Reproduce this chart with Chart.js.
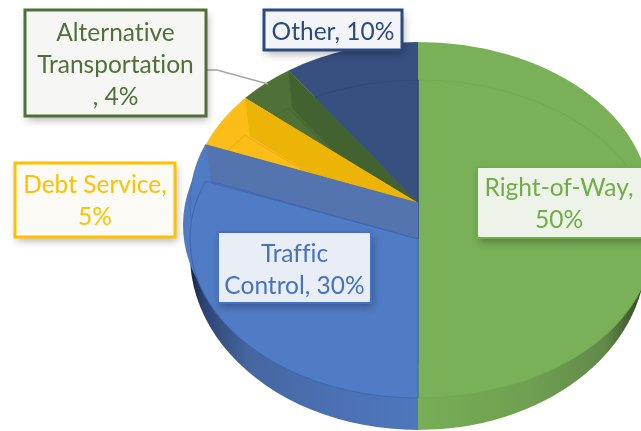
<!DOCTYPE html>
<html><head><meta charset="utf-8">
<style>html,body{margin:0;padding:0;background:#fff}canvas{display:block}</style>
<script src="https://cdn.jsdelivr.net/npm/chart.js@4"></script>
</head><body><canvas id="c" width="641" height="431"></canvas>
<script>
const categories = ["Right-of-Way", "Traffic Control", "Debt Service", "Alternative Transportation", "Other"];
const shares = [50, 30.9, 5.4, 4.1, 9.6];
const labelLines = [["Right-of-Way,", "50%"], ["Traffic", "Control, 30%"], ["Debt Service,", "5%"], ["Alternative", "Transportation", ", 4%"], ["Other, 10%"]];
const faceColors = ["#7AB158", "#507CC6", "#FDBD19", "#4F7138", "#375080"];
const wallColors = ["#7AB158", "#5374AE", "#ECB406", "#426230", "#375080"];
const lineColors = ["#72A851", "#3F66AE", "#E8AE10", "#47662F", "#2F4877"];
const textColors = ["#70AD47", "#4472C4", "#FFC000", "#4F7138", "#2B4A80"];
const boxFills = ["#EEF3EA", "#E9EEF6", "#FBFAF5", "#F6F6F4", "#F2F4F8"];
const boxBorders = ["#70AD47", "#4472C4", "#FFC000", "#4F7138", "#2B4A80"];
const boxWidths = [2, 2, 3, 3, 3];
const boxes = [[477,167,170,71],[218,232,153,71],[15,163,160,74],[25,10,181,106],[264,10,138,40]];
const textNudge = [1.5, 3, 1, 2.5, 2];

const apexX = 418;
const far = {cy:203, ry:161, rxL:228, rxR:232};
const near = {cy:239, ry:159, rxL:228, rxR:235};
const nearCorner = {cy:239, ry:159, rxL:222, rxR:222};
const rim = {cy:225, ry:161, rxL:235, rxR:235};
const base = {cy:255, ry:175, rxL:228, rxR:228};

function paint(ctx, arc, g, fill, stroke, lw, right){
  const R = arc.outerRadius, rx = right ? g.rxR : g.rxL;
  ctx.save();
  ctx.translate(apexX, g.cy);
  ctx.scale(rx/R, g.ry/R);
  ctx.translate(-arc.x, -arc.y);
  const saved = arc.options;
  const f = typeof fill === 'function' ? fill(ctx, arc) : fill;
  arc.options = Object.assign({}, saved, {backgroundColor:f, borderColor:stroke||f, borderWidth:lw||0, circular:true, borderAlign:'center', offset:0, spacing:0, borderRadius:0});
  arc.draw(ctx);
  arc.options = saved;
  ctx.restore();
}
function pt(a, g){ return [apexX + g.rxL*Math.cos(a), g.cy + g.ry*Math.sin(a)]; }
function wallQuad(ctx, arc, color, line){
  const a = arc.endAngle, p = pt(a, far), q = pt(a, nearCorner);
  ctx.save();
  ctx.fillStyle = color;
  ctx.beginPath();
  ctx.moveTo(apexX, far.cy); ctx.lineTo(p[0], p[1]); ctx.lineTo(q[0], q[1]); ctx.lineTo(apexX, near.cy);
  ctx.closePath(); ctx.fill();
  ctx.strokeStyle = line; ctx.lineWidth = 1;
  ctx.beginPath(); ctx.moveTo(q[0], q[1]); ctx.lineTo(apexX, near.cy); ctx.stroke();
  ctx.restore();
}
function gradGreen(ctx, arc){
  const R = arc.outerRadius, g = ctx.createLinearGradient(arc.x, 0, arc.x+R, 0);
  g.addColorStop(0, "#78AE56"); g.addColorStop(0.5, "#6F9F50"); g.addColorStop(0.82, "#62894A"); g.addColorStop(1, "#2F4425");
  return g;
}
function gradBlue(ctx, arc){
  const R = arc.outerRadius, g = ctx.createLinearGradient(arc.x-R, 0, arc.x, 0);
  g.addColorStop(0, "#14233F"); g.addColorStop(0.06, "#2C4474"); g.addColorStop(0.25, "#45659F"); g.addColorStop(0.6, "#4A70B2"); g.addColorStop(1, "#4E77BC");
  return g;
}
function drawBox(ctx, i){
  const [x,y,w,h] = boxes[i];
  ctx.save();
  ctx.shadowColor = "rgba(0,0,0,0.30)"; ctx.shadowBlur = 8; ctx.shadowOffsetX = 2; ctx.shadowOffsetY = 4;
  ctx.fillStyle = boxFills[i];
  ctx.fillRect(x,y,w,h);
  ctx.restore();
  ctx.strokeStyle = boxBorders[i]; ctx.lineWidth = boxWidths[i];
  ctx.strokeRect(x,y,w,h);
  ctx.fillStyle = textColors[i];
  ctx.font = "24.5px Lato";
  ctx.textRendering = "optimizeSpeed";
  ctx.textAlign = "center"; ctx.textBaseline = "middle";
  const lines = labelLines[i], lh = 32;
  const cx = x + (i===0 ? 164/2 : w/2), cy = y + h/2 + textNudge[i];
  lines.forEach((t,k)=>ctx.fillText(t, cx, cy + (k-(lines.length-1)/2)*lh));
}
const pie3d = {
  id:'pie3d',
  beforeDatasetsDraw(chart){
    const ctx = chart.ctx, arcs = chart.getDatasetMeta(0).data;
    // green half
    paint(ctx, arcs[0], base, gradGreen, null, 0, true);
    paint(ctx, arcs[0], far, faceColors[0], null, 0, true);
    paint(ctx, arcs[0], near, faceColors[0], lineColors[0], 1, true);
    // blue lower wall and rim
    paint(ctx, arcs[1], base, gradBlue);
    paint(ctx, arcs[1], rim, faceColors[1]);
    // remaining slices, back to front
    for (const i of [4,3,2,1]){
      paint(ctx, arcs[i], far, faceColors[i], i===1?lineColors[i]:null, i===1?0.8:0);
      paint(ctx, arcs[i], near, faceColors[i], lineColors[i], 1);
      wallQuad(ctx, arcs[i], wallColors[i], lineColors[i]);
    }
    // leader line
    ctx.strokeStyle = "#A5A5A5"; ctx.lineWidth = 1.5;
    ctx.beginPath(); ctx.moveTo(206,70); ctx.lineTo(217,70); ctx.lineTo(268,84); ctx.stroke();
    [4,3,2,1,0].forEach(i=>drawBox(ctx,i));
    return false;
  }
};
new Chart(document.getElementById('c'), {
  type:'pie',
  data:{labels:categories, datasets:[{data:shares, backgroundColor:faceColors, borderWidth:0}]},
  options:{responsive:false, animation:false, plugins:{legend:{display:false}, tooltip:{enabled:false}}},
  plugins:[pie3d]
});
</script></body></html>
